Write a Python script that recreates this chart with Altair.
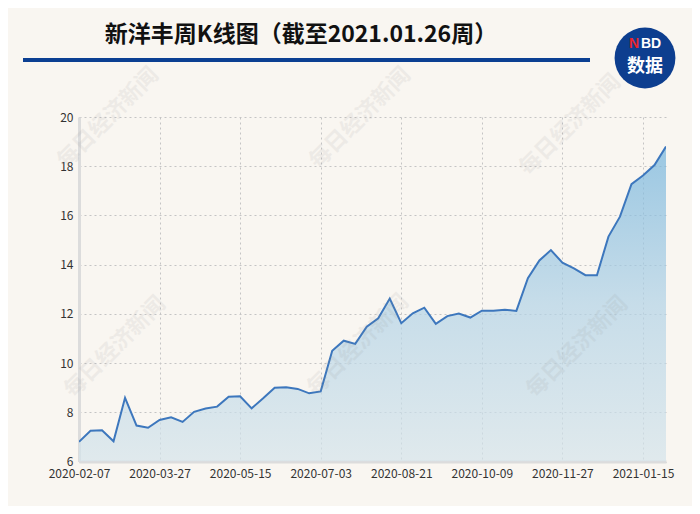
import altair as alt
import pandas as pd

dates = [
    "2020-02-07", "2020-02-14", "2020-02-21", "2020-02-28", "2020-03-06", "2020-03-13", "2020-03-20",
    "2020-03-27", "2020-04-03", "2020-04-10", "2020-04-17", "2020-04-24", "2020-04-30", "2020-05-08",
    "2020-05-15", "2020-05-22", "2020-05-29", "2020-06-05", "2020-06-12", "2020-06-19", "2020-06-24",
    "2020-07-03", "2020-07-10", "2020-07-17", "2020-07-24", "2020-07-31", "2020-08-07", "2020-08-14",
    "2020-08-21", "2020-08-28", "2020-09-04", "2020-09-11", "2020-09-18", "2020-09-25", "2020-09-30",
    "2020-10-09", "2020-10-16", "2020-10-23", "2020-10-30", "2020-11-06", "2020-11-13", "2020-11-20",
    "2020-11-27", "2020-12-04", "2020-12-11", "2020-12-18", "2020-12-25", "2020-12-31", "2021-01-08",
    "2021-01-15", "2021-01-22", "2021-01-26",
]
close = [
    6.80, 7.25, 7.27, 6.82, 8.59, 7.46, 7.37,
    7.69, 7.80, 7.61, 8.02, 8.15, 8.23, 8.63,
    8.65, 8.16, 8.57, 9.00, 9.02, 8.95, 8.77,
    8.85, 10.50, 10.91, 10.78, 11.48, 11.82, 12.62,
    11.62, 12.02, 12.25, 11.59, 11.91, 12.01, 11.85,
    12.13, 12.13, 12.17, 12.12, 13.45, 14.17, 14.59,
    14.08, 13.85, 13.57, 13.57, 15.14, 15.95, 17.27,
    17.62, 18.05, 18.80,
]
label_dates = ["2020-02-07", "2020-03-27", "2020-05-15", "2020-07-03",
               "2020-08-21", "2020-10-09", "2020-11-27", "2021-01-15"]
y_ticks = [6, 8, 10, 12, 14, 16, 18, 20]

title_text = "新洋丰周K线图（截至2021.01.26周）"
watermark = "每日经济新闻"

df = pd.DataFrame({"date": dates, "close": close})
one = pd.DataFrame({"k": [0]})

FONT = "Noto Sans CJK SC"
BG = "#f9f6f1"

W, H = 587, 344.5

x_enc = alt.X("date:O", sort=None,
              scale=alt.Scale(type="point", padding=0),
              axis=alt.Axis(values=label_dates, labelAngle=0, title=None,
                            grid=True, gridColor="#c4c4c4", gridDash=[2, 3], gridWidth=1,
                            ticks=False, domainColor="#dcdcdc", domainWidth=3,
                            labelFont=FONT, labelFontSize=12, labelColor="#333333",
                            labelPadding=7))
y_enc = alt.Y("close:Q",
              scale=alt.Scale(domain=[6, 20], nice=False, zero=False),
              axis=alt.Axis(values=y_ticks, title=None,
                            grid=True, gridColor="#c4c4c4", gridDash=[2, 3], gridWidth=1,
                            ticks=False, domainColor="#dcdcdc", domainWidth=3,
                            labelFont=FONT, labelFontSize=12, labelColor="#333333",
                            labelPadding=6))

area = alt.Chart(df).mark_area(
    clip=True,
    color=alt.Gradient(
        gradient="linear",
        stops=[alt.GradientStop(color="#72b3dc", offset=0),
               alt.GradientStop(color="#b1d2e6", offset=0.5),
               alt.GradientStop(color="#d5e4eb", offset=1)],
        x1=1, x2=1, y1=0, y2=1),
    line={"color": "#3d77bd", "strokeWidth": 2},
).encode(x=x_enc, y=y_enc, y2=alt.datum(6))

layers = [area]

# watermarks (decoration)
wm_pos = [(29, 1), (281, 1), (491, 8), (36, 230), (279, 228), (498, 230)]
for (wx, wy) in wm_pos:
    layers.append(
        alt.Chart(one).mark_text(text=watermark, font=FONT, fontSize=22, fontWeight="bold",
                                 color="#8a8a8a", opacity=0.10, angle=315,
                                 align="center", baseline="middle")
        .encode(x=alt.value(wx), y=alt.value(wy))
    )

# title
layers.append(
    alt.Chart(one).mark_text(text=title_text, font=FONT, fontSize=23, fontWeight="bold",
                             color="#111111", align="center", baseline="middle")
    .encode(x=alt.value(222), y=alt.value(-82))
)
# blue rule under title
layers.append(
    alt.Chart(one).mark_rule(color="#0b3f92", strokeWidth=4)
    .encode(x=alt.value(-56), x2=alt.value(511), y=alt.value(-57))
)
# logo
layers.append(
    alt.Chart(one).mark_point(shape="circle", filled=True, color="#0d3e8f", opacity=1, size=3700)
    .encode(x=alt.value(566), y=alt.value(-59))
)
layers.append(
    alt.Chart(one).mark_text(text="N", font="Liberation Sans", fontSize=14, fontWeight="bold",
                             color="#e8262d", align="right", baseline="middle")
    .encode(x=alt.value(560), y=alt.value(-73))
)
layers.append(
    alt.Chart(one).mark_text(text="BD", font="Liberation Sans", fontSize=14, fontWeight="bold",
                             color="#ffffff", align="left", baseline="middle")
    .encode(x=alt.value(562), y=alt.value(-73))
)
layers.append(
    alt.Chart(one).mark_text(text="数据", font=FONT, fontSize=18, fontWeight="bold",
                             color="#ffffff", align="center", baseline="middle")
    .encode(x=alt.value(566), y=alt.value(-50))
)

chart = alt.layer(*layers).properties(
    width=W, height=H,
    background=BG,
    padding={"left": 71, "top": 109, "right": 26, "bottom": 44},
    autosize=alt.AutoSizeParams(type="none"),
).configure_view(stroke=None)

chart.save("out.html", embed_options={"renderer": "svg", "actions": False})
